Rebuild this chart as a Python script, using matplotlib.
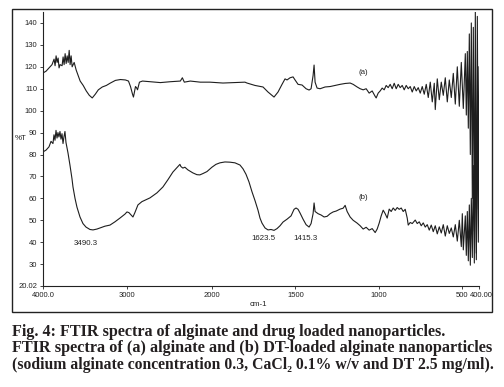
import numpy as np
import matplotlib
matplotlib.use("Agg")
import matplotlib.pyplot as plt
import matplotlib.patches as patches
from matplotlib.transforms import ScaledTranslation

# spectrum (a) alginate: wavenumber (cm-1) and %T
wn_a = [4000, 3964, 3929, 3893, 3869, 3857, 3845, 3833, 3821, 3810, 3798, 3774, 3762, 3750,
        3738, 3726, 3714, 3702, 3690, 3679, 3667, 3655, 3631, 3607, 3583, 3560, 3524, 3488,
        3452, 3417, 3381, 3345, 3298, 3250, 3202, 3143, 3083, 3024, 2988, 2964, 2940, 2929,
        2917, 2905, 2893, 2881, 2858, 2822, 2728, 2610, 2492, 2374, 2350, 2327, 2256, 2138,
        2024, 1934, 1802, 1790, 1742, 1694, 1664, 1628, 1604, 1580, 1562, 1550, 1532, 1514,
        1502, 1484, 1460, 1436, 1418, 1406, 1394, 1388, 1382, 1370, 1352, 1322, 1292, 1262,
        1232, 1202, 1172, 1154, 1130, 1112, 1094, 1076, 1058, 1040, 1022, 1016, 1004, 992,
        980, 968, 956, 944, 932, 920, 908, 896, 884, 872, 860, 848, 836, 824, 812, 800, 788,
        776, 764, 752, 740, 728, 716, 704, 692, 680, 668, 662, 650, 638, 626, 614, 602, 590,
        578, 566, 554, 542, 530, 518, 506, 494, 482, 476, 470, 464, 458, 452, 446, 440, 434,
        428, 422, 416, 410, 404, 400]
t_a = [117.2, 118, 119.5, 121, 123.5, 120.5, 125, 122, 124, 119.5, 121, 120.5, 124.5, 121,
       126, 121.5, 125, 122, 127.5, 121, 125, 120, 122, 118.5, 116, 113.5, 111.5, 109,
       107, 105.8, 107.5, 109.5, 110.8, 111.5, 112.6, 113.8, 114.2, 114, 113.5, 111, 107.5, 106.2,
       108.5, 111, 110.5, 109.5, 113, 113.5, 113.2, 112.8, 113.2, 113.5, 115, 113, 113.5, 113,
       113, 112.6, 113, 112.6, 111.5, 110.8, 108.5, 106.2, 108.5, 112, 114.5, 114, 115, 115.4,
       114, 112, 111.7, 110, 109.4, 110, 116, 120.8, 113, 110.3, 110, 110.8, 111, 111.5,
       112, 112.4, 112.6, 112, 110.8, 110, 109.5, 110, 108, 109, 106.5, 105.8, 108, 109,
       110.3, 109.5, 111.5, 110.5, 112, 110, 112.5, 110, 112, 110.5, 111.5, 109.5, 111.5, 110, 111, 108.5, 111,
       109, 110.5, 108, 111, 107.5, 112, 106, 113, 104, 112.5, 100.5, 114.5, 105, 113, 107, 115, 104,
       114, 106, 117, 103, 120, 102, 122, 101, 126, 98, 127, 92, 135, 80, 140, 60, 138,
       45, 145, 35, 143, 55, 120]

# spectrum (b) DT-loaded nanoparticles
wn_b = [4000, 3964, 3929, 3905, 3882, 3870, 3858, 3846, 3834, 3823, 3811, 3799, 3787, 3775,
        3763, 3752, 3740, 3728, 3716, 3704, 3681, 3657, 3645, 3621, 3598, 3562, 3527, 3491,
        3444, 3408, 3361, 3326, 3267, 3207, 3148, 3089, 3030, 3006, 2983, 2959, 2935, 2912,
        2876, 2829, 2734, 2651, 2580, 2521, 2462, 2415, 2379, 2367, 2344, 2320, 2285, 2225,
        2178, 2143, 2107, 2059, 2000, 1976, 1952, 1922, 1892, 1862, 1832, 1814, 1796, 1778,
        1760, 1742, 1724, 1712, 1700, 1682, 1664, 1646, 1628, 1610, 1592, 1574, 1550, 1526,
        1508, 1496, 1484, 1472, 1454, 1436, 1418, 1406, 1394, 1388, 1382, 1364, 1346, 1328,
        1310, 1292, 1274, 1256, 1232, 1214, 1202, 1190, 1172, 1154, 1130, 1112, 1094, 1076,
        1058, 1040, 1022, 1010, 998, 986, 974, 962, 950, 938, 926, 914, 902, 890, 878, 866,
        854, 842, 830, 824, 812, 800, 782, 770, 758, 746, 734, 722, 710, 698, 686, 674, 662,
        650, 638, 626, 614, 602, 590, 578, 566, 554, 542, 530, 518, 506, 500, 494, 482, 476,
        470, 464, 458, 452, 446, 440, 434, 428, 422, 416, 410, 404, 400]
t_b = [81.2, 82, 83.5, 86, 85, 89, 86.5, 91, 87.5, 90, 88, 90.5, 87, 89.5,
       85, 88, 90.5, 85.5, 83, 80.7, 75.2, 69, 65.2, 60, 56, 51.5, 48.5, 46.9,
       45.8, 45.6, 46, 46.5, 47.3, 47.8, 49.3, 51, 52.8, 53.8, 53.5, 52.5, 51.5, 53.5,
       57, 58.5, 60.2, 62.5, 65.2, 68.5, 72, 74, 75.5, 74.5, 73.8, 74.2, 73, 71.6,
       70.8, 70.7, 71.3, 72.2, 74.2, 75.5, 76.2, 76.6, 76.5, 76.2, 75.2, 73.5, 71, 67.5,
       63, 59, 54.6, 51, 48.7, 46.5, 45.6, 45.8, 45.4, 46.2, 47.5, 49.2, 50.5, 52,
       55, 55.6, 55, 53.3, 50.5, 48, 46.9, 48.5, 53, 57.9, 54, 53, 52.4, 51.5,
       51.8, 53, 53.8, 54.2, 55.1, 55.5, 56.8, 54, 51.5, 50, 48.7, 47.5, 46, 46.8,
       45.5, 46.2, 44.4, 46, 48.7, 52, 54.6, 53, 51, 55.1, 54, 55.6, 54.5, 55.8, 55, 55.6,
       54, 55, 51, 47.8, 49, 48.5, 50.1, 48.5, 49.3, 47.5, 48.8, 46.9, 48, 45.5, 47.8, 44.8, 47.5,
       43.8, 47, 44.2, 48, 42.8, 47.5, 44, 46.5, 42.4, 48, 40.5, 50, 38, 53, 36.5, 52, 34,
       54, 31.5, 57, 29.5, 60, 33, 75, 30.5, 90, 32, 100, 40, 85]

xticks = [4000, 3000, 2000, 1500, 1000, 500, 400]
xticklabels = ["4000.0", "3000", "2000", "1500", "1000", "500", "400.00"]
yticks = [20.02, 30, 40, 50, 60, 70, 80, 90, 100, 110, 120, 130, 140]
yticklabels = ["20.02"] + [str(v) for v in yticks[1:]]

# instrument style axis: 4000-2000 compressed to half the scale of 2000-400
k = 0.506
def fwd(w):
    w = np.asarray(w, dtype=float)
    return np.where(w < 2000, w, 2000 + (w - 2000) * k)

def inv(y):
    y = np.asarray(y, dtype=float)
    return np.where(y < 2000, y, 2000 + (y - 2000) / k)

W, H = 504, 387
fig = plt.figure(figsize=(W / 100, H / 100), dpi=100)
ax = fig.add_axes([43 / W, 1 - 286 / H, (479 - 43) / W, (286 - 12) / H])

ax.set_xscale("function", functions=(fwd, inv))
ax.plot(wn_a, t_a, color="#1e1e1e", lw=0.8)
ax.plot(wn_b, t_b, color="#1e1e1e", lw=0.8)
ax.set_xlim(4000, 400)
ax.set_ylim(20.02, 145)

ax.set_xticks(xticks)
ax.set_xticklabels(xticklabels)
ax.set_yticks(yticks)
ax.set_yticklabels(yticklabels)
ax.minorticks_off()
ax.tick_params(labelsize=5.5, length=2.5, width=0.6, pad=1.5, colors="#222222")
for lab in ax.get_xticklabels() + ax.get_yticklabels():
    lab.set_family("Liberation Sans")
last = ax.get_xticklabels()[-1]
last.set_transform(last.get_transform() + ScaledTranslation(2.5 / 100, 0, fig.dpi_scale_trans))

for s in ["top", "right"]:
    ax.spines[s].set_visible(False)
for s in ["left", "bottom"]:
    ax.spines[s].set_linewidth(0.8)
    ax.spines[s].set_color("#222222")

lbl = dict(fontsize=5.7, family="Liberation Sans", color="#222222", ha="center", va="center")
ax.text(1094, 117.2, "(a)", **lbl)
ax.text(1094, 60.2, "(b)", **lbl)
ax.text(3490, 39.6, "3490.3", **lbl)
ax.text(1694, 41.9, "1623.5", **lbl)
ax.text(1442, 41.9, "1415.3", **lbl)

fig.text(15 / W, 1 - 138 / H, "%T", **{**lbl, "ha": "left"})
fig.text(258 / W, 1 - 304 / H, "cm-1", **lbl)

fig.patches.append(patches.Rectangle((12 / W, 1 - 312 / H), 480 / W, 303 / H,
                                     transform=fig.transFigure, fill=False,
                                     lw=1.0, ec="#222222"))

cap = dict(fontweight="bold", family="Liberation Serif", color="#231f20",
           ha="left", va="center")
fig.text(12 / W, 1 - 332 / H, "Fig. 4: FTIR spectra of alginate and drug loaded nanoparticles.",
         fontsize=11.6, **cap)
fig.text(12 / W, 1 - 348.5 / H, "FTIR spectra of (a) alginate and (b) DT-loaded alginate nanoparticles",
         fontsize=11.7, **cap)
fig.text(12 / W, 1 - 365 / H, "(sodium alginate concentration 0.3, CaCl\u2082 0.1% w/v and DT 2.5 mg/ml).",
         fontsize=11.3, **cap)

fig.savefig("out.png", dpi=100)
